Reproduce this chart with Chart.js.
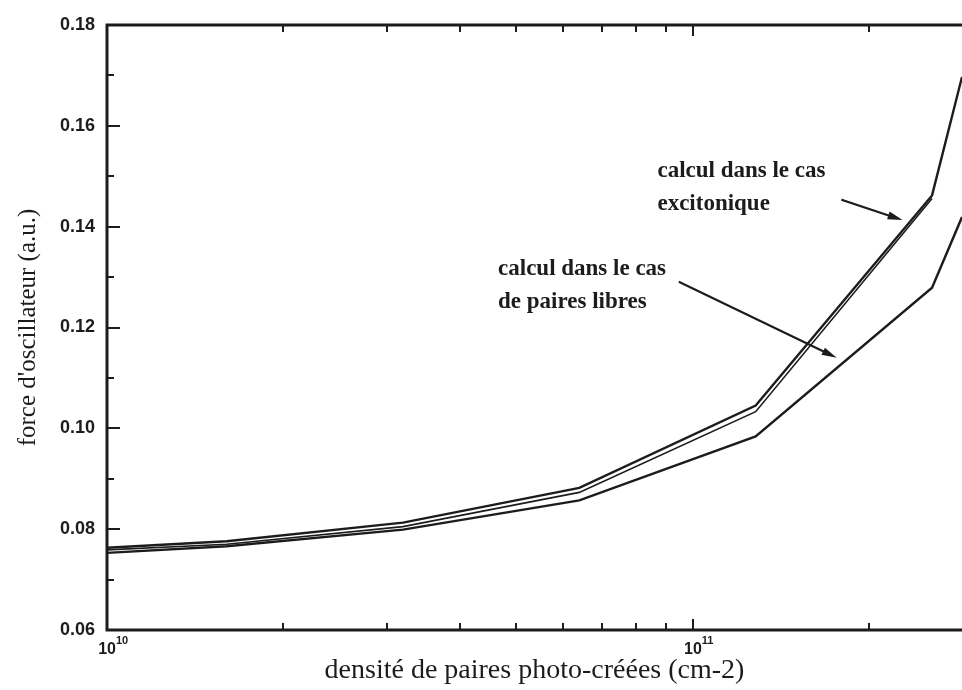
<!DOCTYPE html>
<html>
<head>
<meta charset="utf-8">
<script src="https://cdn.jsdelivr.net/npm/chart.js@4/dist/chart.umd.min.js"></script>
<style>
  html, body { margin: 0; padding: 0; background: #fff; }
  canvas { display: block; }
</style>
</head>
<body>
<canvas id="chartForce" width="962" height="690"></canvas>
<script>
/* force d'oscillateur vs densité de paires photo-créées */

// densités (cm-2), échelle log
const densities = [1e10, 1.6e10, 3.2e10, 6.4e10, 1.28e11, 2.56e11, 2.88e11];
// calcul excitonique (trait extérieur / intérieur)
const excitonOuter = [0.0763, 0.0776, 0.0813, 0.0882, 0.1045, 0.1462, 0.1697];
const excitonInner = [0.0759, 0.0770, 0.0805, 0.0873, 0.1033, 0.1456, null];
// calcul paires libres
const pairesLibres = [0.0753, 0.0766, 0.0799, 0.0857, 0.0984, 0.1279, 0.1419];

const yMin = 0.06, yMax = 0.18, yStep = 0.02, yMinorStep = 0.01;
const xMin = 1e10, xMax = 2.88e11;
const xDecades = [10, 11];

// annotations (coordonnées en données)
const notes = [
  { lines: ['calcul dans le cas', 'excitonique'], x: 8.7e10, y: 0.1499,
    from: [1.80e11, 0.1453], to: [2.28e11, 0.1413] },
  { lines: ['calcul dans le cas', 'de paires libres'], x: 4.65e10, y: 0.1304,
    from: [9.5e10, 0.1290], to: [1.76e11, 0.1140] },
];

const INK = '#1c1c1c';
const toXY = arr => densities.map((x, i) => ({ x, y: arr[i] })).filter(p => p.y !== null);

/* ------------------------------
 * cadre, graduations internes, labels 10^n, annotations
 * ------------------------------ */
const decorPlugin = {
  id: 'decor',
  afterDatasetsDraw(chart) {
    const { ctx, chartArea: a, scales: { x, y } } = chart;
    ctx.save();
    ctx.strokeStyle = INK;
    ctx.lineCap = 'square';

    // cadre
    ctx.lineWidth = 3;
    ctx.beginPath();
    ctx.moveTo(a.right + 2, a.top);
    ctx.lineTo(a.left, a.top);
    ctx.lineTo(a.left, a.bottom);
    ctx.lineTo(a.right + 2, a.bottom);
    ctx.stroke();

    // graduations y
    ctx.lineWidth = 2;
    const nY = Math.round((yMax - yMin) / yMinorStep);
    for (let k = 1; k < nY; k++) {
      const py = Math.round(y.getPixelForValue(yMin + k * yMinorStep));
      const len = k % 2 === 0 ? 12 : 6;
      ctx.beginPath();
      ctx.moveTo(a.left, py);
      ctx.lineTo(a.left + len, py);
      ctx.stroke();
    }

    // graduations x (haut et bas)
    xDecades.forEach(d => {
      for (let m = 1; m <= 9; m++) {
        const v = m * Math.pow(10, d);
        if (v <= xMin || v >= xMax) continue;
        const px = Math.round(x.getPixelForValue(v));
        const len = m === 1 ? 10 : 6;
        ctx.beginPath();
        ctx.moveTo(px, a.bottom);
        ctx.lineTo(px, a.bottom - len);
        ctx.moveTo(px, a.top);
        ctx.lineTo(px, a.top + len);
        ctx.stroke();
      }
    });

    // labels 10^n
    ctx.fillStyle = INK;
    ctx.textBaseline = 'middle';
    xDecades.forEach(d => {
      const px = x.getPixelForValue(Math.pow(10, d));
      ctx.font = 'bold 16px "Liberation Sans", Arial, sans-serif';
      ctx.textAlign = 'right';
      ctx.fillText('10', px + 9, a.bottom + 20);
      ctx.font = 'bold 11px "Liberation Sans", Arial, sans-serif';
      ctx.textAlign = 'left';
      ctx.fillText(String(d), px + 9, a.bottom + 11);
    });

    // annotations + flèches
    notes.forEach(n => {
      ctx.font = 'bold 23px "Liberation Serif", "Times New Roman", serif';
      ctx.textAlign = 'left';
      ctx.textBaseline = 'alphabetic';
      const tx = x.getPixelForValue(n.x), ty = y.getPixelForValue(n.y);
      n.lines.forEach((t, i) => ctx.fillText(t, tx, ty + i * 33));

      const x0 = x.getPixelForValue(n.from[0]), y0 = y.getPixelForValue(n.from[1]);
      const x1 = x.getPixelForValue(n.to[0]), y1 = y.getPixelForValue(n.to[1]);
      const ang = Math.atan2(y1 - y0, x1 - x0);
      const hl = 15, hw = 4;
      ctx.lineWidth = 2.2;
      ctx.beginPath();
      ctx.moveTo(x0, y0);
      ctx.lineTo(x1 - hl * Math.cos(ang), y1 - hl * Math.sin(ang));
      ctx.stroke();
      ctx.beginPath();
      ctx.moveTo(x1, y1);
      ctx.lineTo(x1 - hl * Math.cos(ang) + hw * Math.sin(ang), y1 - hl * Math.sin(ang) - hw * Math.cos(ang));
      ctx.lineTo(x1 - hl * Math.cos(ang) - hw * Math.sin(ang), y1 - hl * Math.sin(ang) + hw * Math.cos(ang));
      ctx.closePath();
      ctx.fill();
    });
    ctx.restore();
  }
};

const lineDs = (label, arr, w) => ({
  label,
  data: toXY(arr),
  borderColor: INK,
  borderWidth: w,
  pointRadius: 0,
  tension: 0,
  fill: false,
});

new Chart(document.getElementById('chartForce'), {
  type: 'line',
  data: {
    datasets: [
      lineDs('calcul dans le cas excitonique', excitonOuter, 2.4),
      lineDs('calcul dans le cas excitonique (2)', excitonInner, 1.6),
      lineDs('calcul dans le cas de paires libres', pairesLibres, 2.4),
    ],
  },
  options: {
    responsive: false,
    animation: false,
    layout: { padding: { top: 25, right: 0, left: 0, bottom: 0 } },
    plugins: {
      legend: { display: false },
      tooltip: { enabled: false },
    },
    scales: {
      x: {
        type: 'logarithmic',
        min: xMin,
        max: xMax,
        grid: { display: false },
        border: { display: false },
        ticks: { display: false },
        title: {
          display: true,
          text: 'densité de paires photo-créées (cm-2)',
          color: INK,
          font: { family: '"Liberation Serif", "Times New Roman", serif', size: 28 },
          padding: { top: 0, bottom: 3 },
        },
        afterFit(scale) { scale.height = 60; },
      },
      y: {
        min: yMin,
        max: yMax,
        grid: { display: false, drawTicks: false },
        border: { display: false },
        ticks: {
          stepSize: yStep,
          padding: 12,
          color: INK,
          font: { family: '"Liberation Sans", Arial, sans-serif', size: 18, weight: 'bold' },
          callback: v => v.toFixed(2),
        },
        title: {
          display: true,
          text: "force d'oscillateur (a.u.)",
          color: INK,
          font: { family: '"Liberation Serif", "Times New Roman", serif', size: 25 },
          padding: { top: 13, bottom: 0 },
        },
        afterFit(scale) { scale.width = 107; },
      },
    },
  },
  plugins: [decorPlugin],
});
</script>
</body>
</html>
